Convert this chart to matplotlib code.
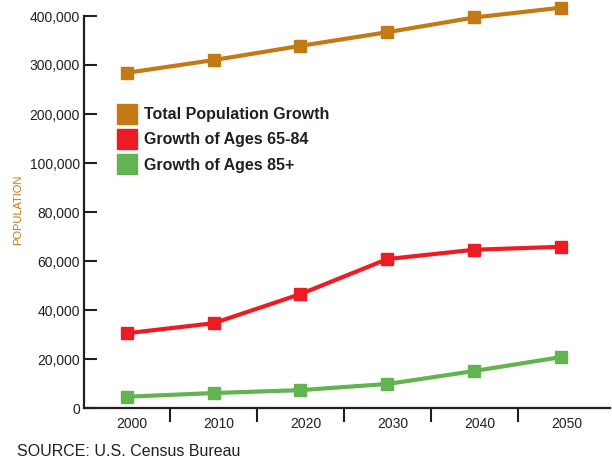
import matplotlib
matplotlib.use("Agg")
import matplotlib.pyplot as plt
from matplotlib.lines import Line2D
from matplotlib.ticker import FixedLocator, FuncFormatter
import numpy as np

plt.rcParams['font.family'] = ['Liberation Sans', 'DejaVu Sans']

years = [2000, 2010, 2020, 2030, 2040, 2050]
total_pop = [284000, 310000, 339000, 367000, 397000, 417000]
ages_65_84 = [30500, 34600, 46500, 60800, 64600, 65800]
ages_85_plus = [4600, 6100, 7300, 9800, 15100, 20800]
series_names = ["Total Population Growth", "Growth of Ages 65-84", "Growth of Ages 85+"]
colors = ["#C47A14", "#ED1C24", "#62B451"]
y_ticks = [0, 20000, 40000, 60000, 80000, 100000, 200000, 300000, 400000]

def fwd(v):
    v = np.asarray(v, dtype=float)
    return np.where(v <= 100000, v / 20000.0, 5 + (v - 100000) / 100000.0)

def inv(u):
    u = np.asarray(u, dtype=float)
    return np.where(u <= 5, u * 20000.0, 100000 + (u - 5) * 100000.0)

fig = plt.figure(figsize=(6.12, 4.61), dpi=100)
ax = fig.add_axes([84/612, 1 - 408/461, (610 - 84)/612, (408 - 16)/461])
ax.set_yscale('function', functions=(fwd, inv))

for vals, c in zip([total_pop, ages_65_84, ages_85_plus], colors):
    ax.plot(years, vals, color=c, lw=3, marker='s', markersize=8.5,
            solid_capstyle='butt', clip_on=False, zorder=3)

ax.set_ylim(0, 400000)
ax.set_xlim(1995.1, 2055.6)

dark = "#231F20"
for s in ['top', 'right']:
    ax.spines[s].set_visible(False)
for s in ['left', 'bottom']:
    ax.spines[s].set_color(dark)
    ax.spines[s].set_linewidth(1.6)

ax.yaxis.set_major_locator(FixedLocator(y_ticks))
ax.yaxis.set_minor_locator(FixedLocator([]))
ax.yaxis.set_major_formatter(FuncFormatter(lambda v, p: f"{int(round(v)):,}"))
ax.tick_params(axis='y', direction='in', length=9.5, width=1.5, color=dark,
               pad=3, labelsize=10, labelcolor=dark)

ax.set_xticks([y + 0.6 for y in years])
ax.set_xticklabels([str(y) for y in years])
ax.set_xticks([y + 5 for y in years[:-1]], minor=True)
ax.tick_params(axis='x', which='major', length=0, pad=6.5, labelsize=10, labelcolor=dark)
ax.tick_params(axis='x', which='minor', direction='out', length=10, width=1.5, color=dark)

fig.text(18/612, 1 - 210/461, "POPULATION", rotation=90, color=colors[0],
         fontsize=8, ha='center', va='center')
fig.text(17/612, 1 - 451/461, "SOURCE: U.S. Census Bureau", color=dark,
         fontsize=11.5, ha='left', va='center')

handles = [Line2D([], [], linestyle='none', marker='s', markersize=14.5,
                  markerfacecolor=c, markeredgecolor=c) for c in colors]
leg = ax.legend(handles, series_names, loc='upper left',
                bbox_to_anchor=(106/612, 1 - 96/461), bbox_transform=fig.transFigure,
                frameon=False, handlelength=1.2, handletextpad=0.5,
                labelspacing=0.64, borderpad=0.2,
                prop={'weight': 'bold', 'size': 11.5})
for t in leg.get_texts():
    t.set_color(dark)

fig.savefig("out.png", dpi=100)
